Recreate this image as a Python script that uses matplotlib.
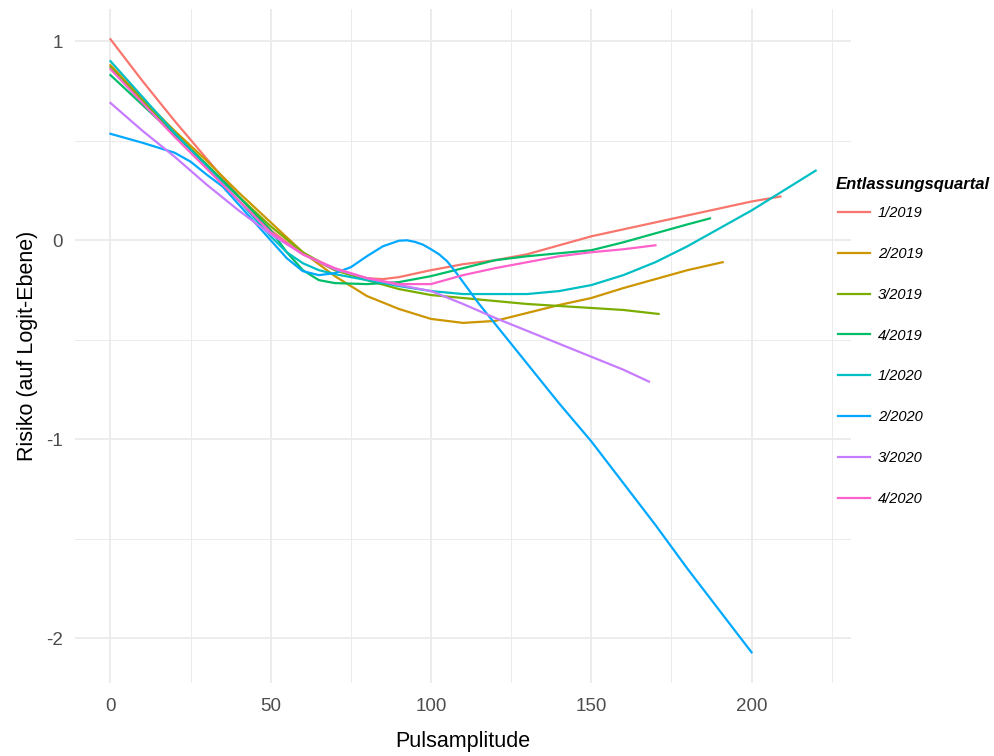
import matplotlib
matplotlib.use("Agg")
import matplotlib.pyplot as plt

# --- Données (Pulsamplitude -> Risiko, Logit) ---
x_1_2019 = [0, 10, 20, 30, 40, 50, 60, 70, 80, 85, 90, 100, 110, 120, 130, 140, 150, 160, 170, 180, 190, 200, 209]
y_1_2019 = [1.01, 0.80, 0.60, 0.41, 0.22, 0.05, -0.07, -0.15, -0.19, -0.195, -0.185, -0.15, -0.12, -0.10, -0.07,
            -0.025, 0.02, 0.055, 0.09, 0.125, 0.16, 0.195, 0.22]

x_2_2019 = [0, 10, 20, 30, 40, 50, 60, 70, 80, 90, 100, 110, 120, 130, 140, 150, 160, 170, 180, 191]
y_2_2019 = [0.88, 0.71, 0.55, 0.40, 0.24, 0.09, -0.06, -0.18, -0.28, -0.345, -0.395, -0.415, -0.405, -0.365,
            -0.325, -0.29, -0.24, -0.195, -0.15, -0.11]

x_3_2019 = [0, 10, 20, 30, 40, 50, 60, 70, 80, 90, 100, 110, 120, 130, 140, 150, 160, 171]
y_3_2019 = [0.87, 0.70, 0.54, 0.38, 0.22, 0.07, -0.06, -0.15, -0.20, -0.245, -0.275, -0.29, -0.305, -0.32,
            -0.33, -0.34, -0.35, -0.37]

x_4_2019 = [0, 10, 20, 30, 40, 50, 55, 60, 65, 70, 80, 90, 100, 110, 120, 130, 140, 150, 160, 170, 180, 187]
y_4_2019 = [0.83, 0.68, 0.53, 0.38, 0.22, 0.05, -0.06, -0.15, -0.20, -0.215, -0.22, -0.21, -0.18, -0.14, -0.10,
            -0.08, -0.065, -0.05, -0.01, 0.035, 0.08, 0.11]

x_1_2020 = [0, 10, 20, 30, 40, 50, 55, 60, 65, 70, 80, 90, 100, 110, 120, 130, 140, 150, 160, 170, 180, 190, 200,
            210, 220]
y_1_2020 = [0.90, 0.72, 0.54, 0.37, 0.20, 0.02, -0.06, -0.115, -0.15, -0.17, -0.20, -0.23, -0.255, -0.27, -0.27,
            -0.27, -0.255, -0.225, -0.175, -0.11, -0.03, 0.06, 0.15, 0.25, 0.35]

x_2_2020 = [0, 10, 15, 20, 25, 30, 35, 40, 45, 50, 55, 60, 65, 70, 75, 80, 85, 90, 92.5, 95, 97.5, 100, 102.5,
            105, 107.5, 110, 112.5, 115, 120, 125, 130, 140, 150, 160, 170, 180, 190, 200]
y_2_2020 = [0.535, 0.49, 0.465, 0.44, 0.395, 0.33, 0.27, 0.18, 0.09, 0.0, -0.09, -0.155, -0.175, -0.165, -0.135,
            -0.08, -0.03, -0.002, 0.0, -0.008, -0.022, -0.045, -0.07, -0.105, -0.155, -0.21, -0.265, -0.32,
            -0.42, -0.52, -0.62, -0.82, -1.01, -1.22, -1.43, -1.65, -1.86, -2.07]

x_3_2020 = [0, 10, 20, 30, 40, 50, 60, 70, 80, 90, 100, 110, 120, 130, 140, 150, 160, 168]
y_3_2020 = [0.69, 0.55, 0.42, 0.28, 0.15, 0.03, -0.07, -0.145, -0.19, -0.225, -0.255, -0.32, -0.39, -0.455,
            -0.52, -0.585, -0.65, -0.71]

x_4_2020 = [0, 10, 20, 30, 40, 50, 60, 70, 80, 90, 100, 110, 120, 130, 140, 150, 160, 170]
y_4_2020 = [0.86, 0.69, 0.52, 0.36, 0.20, 0.04, -0.07, -0.14, -0.19, -0.22, -0.22, -0.175, -0.14, -0.11, -0.08,
            -0.06, -0.045, -0.025]

quartale = ["1/2019", "2/2019", "3/2019", "4/2019", "1/2020", "2/2020", "3/2020", "4/2020"]
serien_x = [x_1_2019, x_2_2019, x_3_2019, x_4_2019, x_1_2020, x_2_2020, x_3_2020, x_4_2020]
serien_y = [y_1_2019, y_2_2019, y_3_2019, y_4_2019, y_1_2020, y_2_2020, y_3_2020, y_4_2020]
farben = ["#F8766D", "#CD9600", "#7CAE00", "#00BE67", "#00BFC4", "#00A9FF", "#C77CFF", "#FF61CC"]

plt.rcParams['font.family'] = ['Liberation Sans', 'DejaVu Sans']
plt.rcParams['axes.unicode_minus'] = False

fig = plt.figure(figsize=(9.95, 7.56), dpi=100)
ax = fig.add_axes([0.0756, 0.0966, 0.7796, 0.892])

# --- Courbes ---
for xs, ys, lab, col in zip(serien_x, serien_y, quartale, farben):
    ax.plot(xs, ys, color=col, lw=1.6, label=lab, solid_joinstyle='round')

# --- Axes façon theme_minimal ---
ax.set_xlim(-11, 231)
ax.set_ylim(-2.224, 1.164)
ax.set_xticks([0, 50, 100, 150, 200])
ax.set_xticks([25, 75, 125, 175, 225], minor=True)
ax.set_yticks([-2, -1, 0, 1])
ax.set_yticks([-1.5, -0.5, 0.5], minor=True)
ax.grid(True, which='major', color='#EBEBEB', lw=1.3)
ax.grid(True, which='minor', color='#EBEBEB', lw=0.7)
ax.set_axisbelow(True)
for s in ax.spines.values():
    s.set_visible(False)
ax.tick_params(which='both', length=0)
ax.tick_params(axis='x', labelsize=13.5, labelcolor='#4D4D4D', pad=11)
ax.tick_params(axis='y', labelsize=13.5, labelcolor='#4D4D4D', pad=9)

ax.set_xlabel("Pulsamplitude", fontsize=15.5, labelpad=11)
ax.set_ylabel("Risiko (auf Logit-Ebene)", fontsize=15.5, labelpad=6)

# --- Légende (titre posé à part pour garder l'écart serré) ---
fig.text(836 / 995, 1 - 185 / 756, "Entlassungsquartal", fontsize=12, fontweight='bold',
         fontstyle='italic', ha='left', va='center')
leg = fig.legend(loc='upper left', bbox_to_anchor=(838 / 995, 1 - 206 / 756), frameon=False,
                 fontsize=10.5, handlelength=2.2, borderpad=0, borderaxespad=0,
                 labelspacing=1.84, handletextpad=0.55)
for t in leg.get_texts():
    t.set_fontstyle('italic')

fig.savefig("out.png", dpi=100)
